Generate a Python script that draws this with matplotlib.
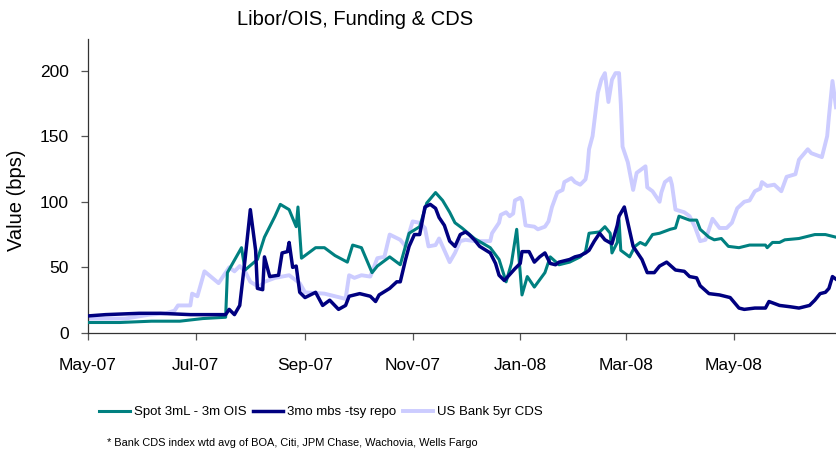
import pandas as pd
import matplotlib
matplotlib.use("Agg")
import matplotlib.pyplot as plt
import matplotlib.dates as mdates
from matplotlib import font_manager

plt.rcParams["font.family"] = ["Liberation Sans", "DejaVu Sans"]

START = pd.Timestamp("2007-05-01")
END = pd.Timestamp("2008-06-28")

# days after 1 May 2007, value in bps
spot_days = [0, 18, 36, 52, 65, 78, 79, 87, 89, 96, 100, 106, 109, 114, 118, 119, 121,
             129, 134, 140, 147, 150, 155, 161, 164, 171, 177, 182, 188, 192, 197, 201,
             205, 208, 212, 219, 228, 233, 237, 240, 243, 246, 249, 253, 259, 262, 267,
             273, 279, 282, 284, 290, 293, 296, 297, 300, 301, 302, 307, 310, 313, 316,
             320, 324, 330, 333, 335, 341, 345, 347, 352, 355, 359, 363, 369, 375, 384,
             385, 388, 392, 395, 403, 412, 418, 424]
spot_vals = [8, 8, 9, 9, 11, 12, 46, 65, 48, 56, 73, 89, 98, 94, 81, 96, 57,
             65, 65, 59, 54, 67, 65, 46, 51, 58, 52, 76, 81, 99, 107, 101,
             92, 84, 80, 72, 65, 56, 39, 53, 79, 29, 43, 35, 46, 58, 52,
             54, 58, 62, 76, 77, 81, 76, 61, 69, 86, 63, 58, 66, 69, 67,
             75, 76, 79, 80, 89, 86, 86, 79, 73, 71, 72, 66, 65, 67, 67,
             65, 69, 69, 71, 72, 75, 75, 73]

repo_days = [0, 10, 29, 41, 58, 72, 78, 80, 83, 86, 89, 92, 95, 96, 99, 100, 103,
             108, 110, 113, 114, 116, 118, 120, 123, 129, 133, 137, 142, 146, 148, 154,
             160, 163, 165, 171, 175, 177, 180, 182, 185, 188, 191, 194, 197, 199, 202,
             205, 208, 211, 214, 216, 219, 222, 228, 231, 233, 236, 242, 245, 246, 250,
             253, 256, 259, 262, 265, 267, 273, 276, 279, 282, 284, 287, 290, 293, 297,
             300, 301, 304, 306, 309, 311, 314, 317, 321, 324, 328, 333, 338, 341, 345,
             347, 352, 358, 364, 369, 372, 378, 384, 386, 392, 398, 403, 409, 412, 415,
             418, 420, 422, 424]
repo_vals = [13, 14, 15, 15, 14, 14, 14, 18, 14, 21, 56, 94, 63, 34, 33, 58, 43,
             44, 61, 62, 69, 50, 51, 31, 27, 31, 21, 25, 18, 21, 28, 30,
             28, 24, 29, 34, 39, 39, 56, 66, 75, 75, 96, 98, 95, 88, 82,
             70, 66, 75, 77, 75, 71, 66, 61, 53, 44, 40, 49, 53, 62, 62,
             54, 58, 61, 53, 52, 54, 56, 58, 59, 61, 63, 70, 76, 71, 68,
             82, 89, 96, 84, 66, 62, 56, 46, 46, 51, 54, 48, 47, 43, 42,
             36, 30, 29, 27, 19, 18, 19, 19, 24, 21, 20, 19, 21, 25, 30,
             31, 34, 43, 41]

cds_days = [0, 21, 35, 44, 49, 51, 58, 59, 62, 66, 74, 80, 83, 86, 89, 92, 97,
            100, 106, 114, 120, 123, 134, 146, 148, 151, 155, 160, 164, 168, 171, 177,
            180, 182, 184, 188, 191, 193, 197, 199, 202, 205, 208, 211, 214, 219, 228,
            229, 233, 234, 237, 239, 241, 242, 245, 246, 248, 253, 255, 259, 261, 263,
            266, 269, 270, 274, 276, 279, 282, 283, 284, 286, 287, 289, 291, 293, 295,
            297, 299, 301, 302, 303, 306, 309, 311, 316, 317, 320, 324, 325, 327, 330,
            331, 333, 338, 341, 344, 347, 350, 354, 358, 362, 365, 368, 372, 375, 378,
            381, 382, 385, 389, 393, 396, 401, 403, 408, 410, 416, 419, 420, 422, 424]
cds_vals = [11, 11, 14, 15, 17, 21, 21, 30, 28, 47, 38, 50, 47, 51, 47, 39, 35,
            39, 42, 44, 38, 31, 30, 26, 44, 42, 44, 43, 57, 58, 75, 71,
            66, 76, 85, 84, 80, 66, 67, 72, 63, 54, 61, 70, 71, 70, 70,
            76, 84, 90, 92, 89, 91, 101, 103, 101, 82, 81, 79, 81, 85, 96,
            107, 109, 115, 118, 115, 113, 117, 124, 140, 150, 161, 183, 193, 198, 176,
            193, 198, 198, 175, 142, 130, 109, 122, 127, 111, 108, 100, 107, 115, 118,
            113, 94, 92, 89, 81, 70, 71, 87, 80, 80, 84, 95, 100, 101, 108,
            110, 115, 112, 113, 108, 119, 121, 132, 140, 137, 134, 150, 165, 192, 172]

series_labels = ["Spot 3mL - 3m OIS", "3mo mbs -tsy repo", "US Bank 5yr CDS"]
series_colors = ["#008080", "#000080", "#CCCCFF"]

# narrow face for legend / footnote if it is there
installed = {f.name for f in font_manager.fontManager.ttflist}
if "Liberation Sans Narrow" in installed:
    narrow_family, legend_size, note_size = "Liberation Sans Narrow", 11, 9.5
else:
    narrow_family, legend_size, note_size = "Liberation Sans", 9.5, 7.9


def to_dates(days):
    return START + pd.to_timedelta(days, unit="D")


fig = plt.figure(figsize=(8.36, 4.53), dpi=100)
ax = fig.add_axes([0.1053, 0.2649, 0.8947, 0.649])

line_cds, = ax.plot(to_dates(cds_days), cds_vals, color=series_colors[2], linewidth=2.8, zorder=2)
line_spot, = ax.plot(to_dates(spot_days), spot_vals, color=series_colors[0], linewidth=2.2, zorder=3)
line_repo, = ax.plot(to_dates(repo_days), repo_vals, color=series_colors[1], linewidth=2.5, zorder=4)

ax.set_xlim(START, END)
ax.set_ylim(0, 224)
ax.set_yticks([0, 50, 100, 150, 200])
ax.xaxis.set_major_locator(mdates.MonthLocator(bymonth=[1, 3, 5, 7, 9, 11]))
ax.xaxis.set_major_formatter(mdates.DateFormatter("%b-%y"))

for side in ["top", "right"]:
    ax.spines[side].set_visible(False)
for side in ["left", "bottom"]:
    ax.spines[side].set_color("#333333")
    ax.spines[side].set_linewidth(0.9)

ax.tick_params(axis="y", direction="out", length=5, width=0.9, color="#555555",
               labelsize=12.5, pad=9)
ax.tick_params(axis="x", direction="out", length=5, width=0.9, color="#555555",
               labelsize=12.5, pad=13)
ax.set_ylabel("Value (bps)", fontsize=14.5)
ax.yaxis.set_label_coords(-0.083, 0.45)

fig.text(0.4246, 0.956, "Libor/OIS, Funding & CDS", ha="center", va="center", fontsize=14.5)

fig.legend([line_spot, line_repo, line_cds], series_labels,
           loc="center", bbox_to_anchor=(0.384, 0.0905), ncol=3, frameon=False,
           prop={"family": narrow_family, "size": legend_size},
           handlelength=2.3, handletextpad=0.3, columnspacing=0.5)

fig.text(0.128, 0.022, "* Bank CDS index wtd avg of BOA, Citi, JPM Chase, Wachovia, Wells Fargo",
         ha="left", va="center", family=narrow_family, fontsize=note_size)

fig.savefig("out.png", dpi=100)
